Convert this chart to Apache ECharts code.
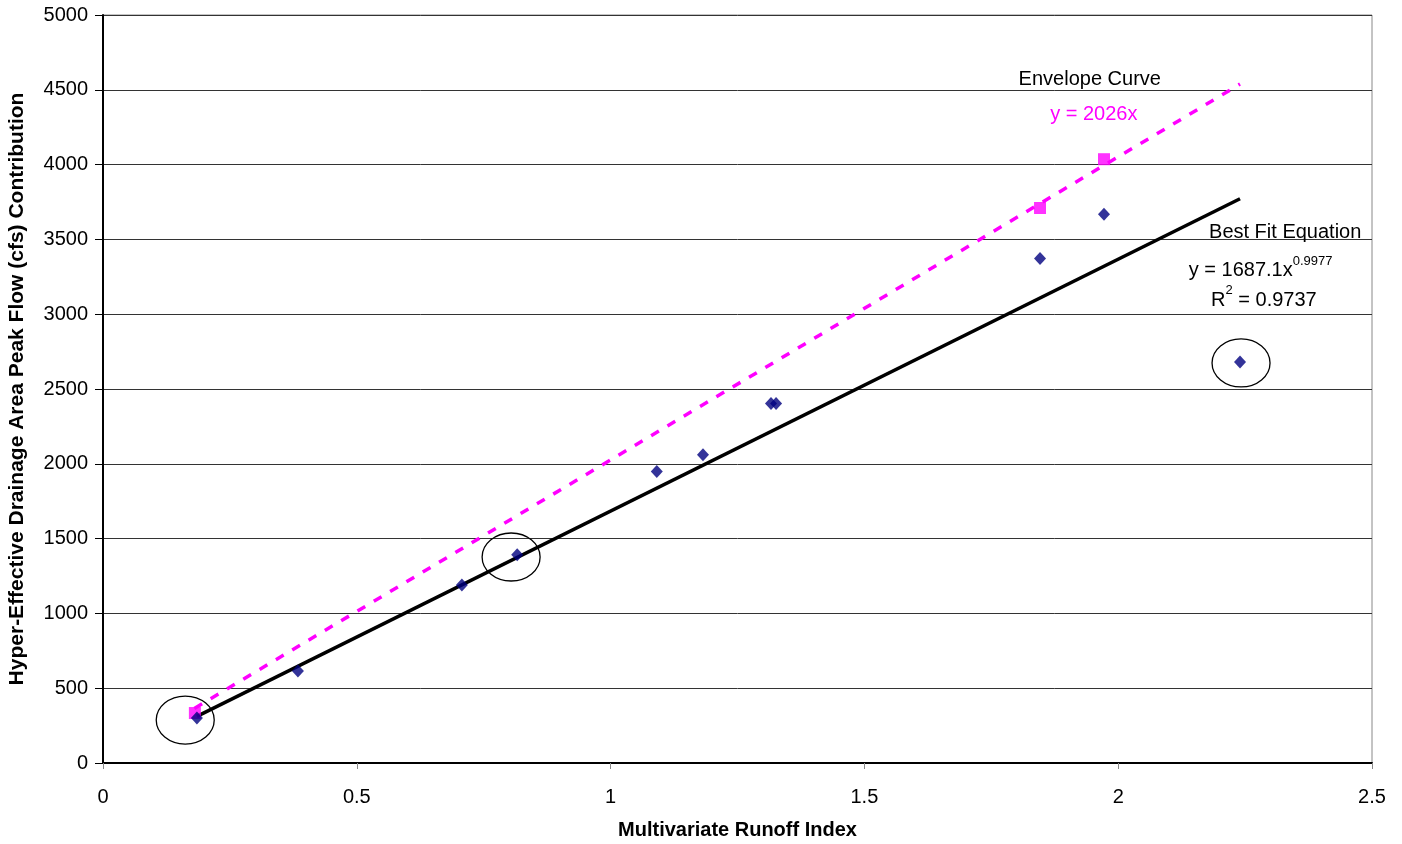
<!DOCTYPE html>
<html>
<head>
<meta charset="utf-8">
<script src="https://cdn.jsdelivr.net/npm/echarts@6/dist/echarts.min.js"></script>
<style>
html,body{margin:0;padding:0;background:#fff;}
#chart{width:1402px;height:844px;}
</style>
</head>
<body>
<div id="chart"></div>
<script>
// Observed data (Multivariate Runoff Index, Peak Flow cfs)
const observedX = [0.185, 0.384, 0.707, 0.816, 1.091, 1.182, 1.316, 1.326, 1.846, 1.972, 2.240];
const observedY = [300, 615, 1190, 1392, 1948, 2060, 2403, 2403, 3373, 3668, 2680];
// Envelope points (pink squares)
const envelopeX = [0.181, 1.846, 1.972];
const envelopeY = [334, 3710, 4036];
// Envelope curve line endpoints (y = 2026x)
const envLineX = [0.18, 2.24];
const envLineY = [365, 4538];
// Best fit line endpoints (y = 1687.1x^0.9977)
const fitLineX = [0.185, 2.24];
const fitLineY = [312, 3772];
// Circled points (centers in data coordinates)
const circleX = [0.162, 0.804, 2.242];
const circleY = [287, 1377, 2674];
// Axis ticks
const xTicks = [0, 0.5, 1, 1.5, 2, 2.5];
const yTicks = [0, 500, 1000, 1500, 2000, 2500, 3000, 3500, 4000, 4500, 5000];

const zip = (a, b) => a.map((v, i) => [v, b[i]]);
const FONT = 'Liberation Sans, Arial, sans-serif';

const chart = echarts.init(document.getElementById('chart'));
const option = {
  animation: false,
  backgroundColor: '#fff',
  grid: { left: 103, right: 30, top: 15, bottom: 81, containLabel: false, outerBoundsMode: 'none',
          show: true, borderColor: '#888', borderWidth: 1 },
  xAxis: {
    type: 'value', min: xTicks[0], max: xTicks[xTicks.length - 1], interval: 0.5,
    name: 'Multivariate Runoff Index', nameLocation: 'middle', nameGap: 57,
    nameTextStyle: { fontFamily: FONT, fontSize: 20, fontWeight: 'bold', color: '#000' },
    axisLine: { onZero: false, lineStyle: { color: '#000', width: 2 } },
    axisTick: { show: true, inside: false, length: 6, lineStyle: { color: '#888' } },
    axisLabel: { fontFamily: FONT, fontSize: 20, color: '#000', margin: 24,
                 formatter: v => String(v) },
    splitLine: { show: false }
  },
  yAxis: {
    type: 'value', min: yTicks[0], max: yTicks[yTicks.length - 1], interval: 500,
    name: 'Hyper-Effective Drainage Area Peak Flow (cfs) Contribution', nameLocation: 'middle', nameGap: 75,
    nameTextStyle: { fontFamily: FONT, fontSize: 21, fontWeight: 'bold', color: '#000' },
    axisLine: { onZero: false, lineStyle: { color: '#000', width: 2 } },
    axisTick: { show: true, inside: false, length: 8, lineStyle: { color: '#000' } },
    axisLabel: { fontFamily: FONT, fontSize: 20, color: '#000', margin: 15,
                 formatter: v => String(v) },
    splitLine: { show: true, lineStyle: { color: '#333', width: 1 } }
  },
  series: [
    {
      type: 'line', data: zip(envLineX, envLineY), symbol: 'none', silent: true,
      lineStyle: { color: '#ff00ff', width: 3.5, type: [9, 10] }, z: 2
    },
    {
      type: 'line', data: zip(fitLineX, fitLineY), symbol: 'none', silent: true,
      lineStyle: { color: '#000', width: 3.5 }, z: 3
    },
    {
      type: 'scatter', data: zip(envelopeX, envelopeY), symbol: 'rect', symbolSize: 12,
      itemStyle: { color: '#ff00ff' }, z: 4
    },
    {
      type: 'scatter', data: zip(observedX, observedY), symbol: 'diamond', symbolSize: [12, 13],
      itemStyle: { color: '#000080' }, z: 5
    }
  ]
};
chart.setOption(option);

function px(x, y) { return chart.convertToPixel({ gridIndex: 0 }, [x, y]); }

const graphics = [];
circleX.forEach((cx, i) => {
  const p = px(cx, circleY[i]);
  graphics.push({
    type: 'ellipse', shape: { cx: p[0], cy: p[1], rx: 29, ry: 24 },
    style: { fill: 'none', stroke: '#000', lineWidth: 1.3 }, z: 10
  });
});
function label(x, y, text, color, align) {
  const p = px(x, y);
  graphics.push({
    type: 'text', x: p[0], y: p[1], z: 11,
    style: { text: text, fill: color, font: '20px ' + FONT, align: align || 'center', verticalAlign: 'middle' }
  });
}
label(1.944, 4572, 'Envelope Curve', '#000');
label(1.952, 4332, 'y = 2026x', '#ff00ff');
label(2.329, 3549, 'Best Fit Equation', '#000');
function supText(x, y, base, sup, tail) {
  const p = px(x, y);
  graphics.push({
    type: 'text', x: p[0], y: p[1], z: 11,
    style: {
      text: '{b|' + base + '}{s|' + sup + '}' + (tail ? '{b|' + tail + '}' : ''),
      align: 'left', verticalAlign: 'middle',
      rich: {
        b: { fontFamily: FONT, fontSize: 20, fill: '#000', color: '#000', verticalAlign: 'bottom', lineHeight: 26 },
        s: { fontFamily: FONT, fontSize: 13, fill: '#000', color: '#000', verticalAlign: 'top', lineHeight: 26, padding: [0, 0, 14, 0] }
      }
    }
  });
}
supText(2.139, 3309, 'y = 1687.1x', '0.9977');
supText(2.183, 3115, 'R', '2', ' = 0.9737');
chart.setOption({ graphic: graphics });
</script>
</body>
</html>
